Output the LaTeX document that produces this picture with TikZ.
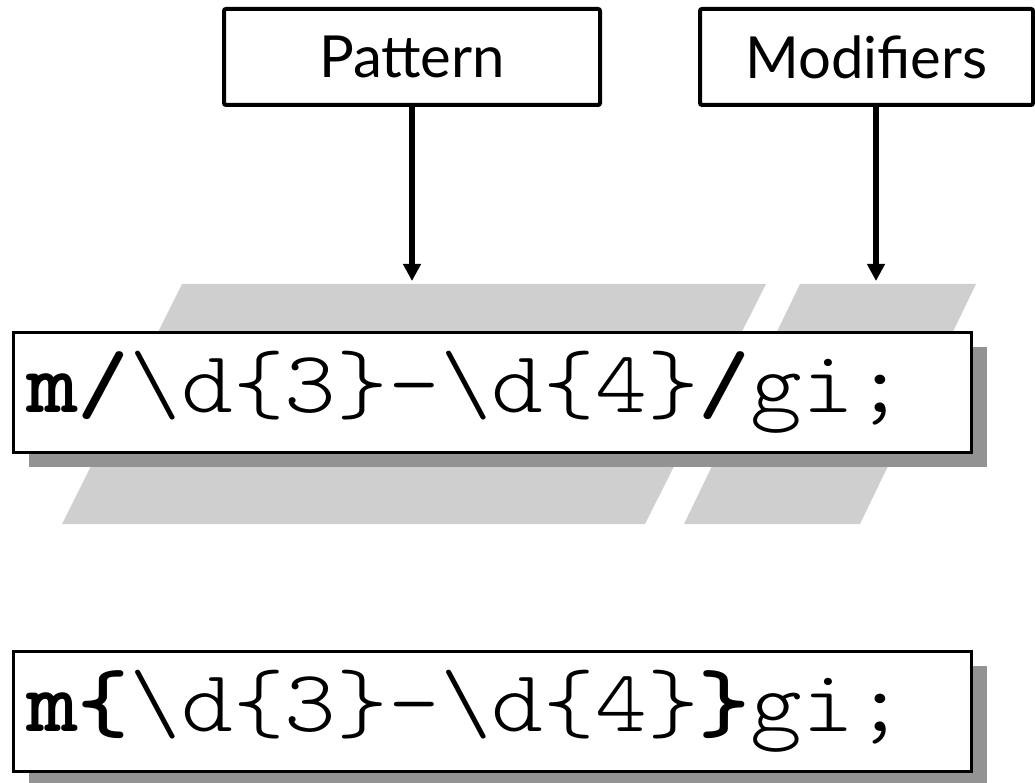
\documentclass[tikz,border=0pt]{standalone}
\usepackage{fontspec}
\usetikzlibrary{arrows.meta,shadows}
\newfontfamily\labelfont{Lato}
\newfontfamily\codefont{lmmonolt10-regular.otf}[BoldFont=lmmonolt10-bold.otf, FakeStretch=1.12]
\definecolor{bandgray}{HTML}{CFCFCF}
\definecolor{shadowgray}{HTML}{939393}
\tikzset{
  labelbox/.style={draw, line width=4pt, rounded corners=2pt, fill=white, inner sep=0pt,
    font=\labelfont\fontsize{58}{58}\selectfont},
  codebox/.style={draw, line width=3pt, fill=white, inner sep=0pt,
    minimum width=958pt, minimum height=120pt,
    general shadow={fill=shadowgray, shadow xshift=16pt, shadow yshift=-15pt}},
  codetext/.style={anchor=base west, inner sep=0pt, font=\codefont\fontsize{88}{88}\selectfont},
  band/.style={fill=bandgray},
  pointer/.style={line width=5.5pt, -{Triangle[width=17pt,length=17pt]}},
}
\begin{document}
\begin{tikzpicture}[x=1pt, y=-1pt]
\useasboundingbox (0,0) rectangle (1035,783);

% slanted bands marking the two parts of the match operator
\fill[band] (182,284) -- (766,284) -- (645,524) -- (62,524) -- cycle;
\fill[band] (800,284) -- (976,284) -- (860,524) -- (684,524) -- cycle;

% part labels
\node[labelbox, minimum width=376pt, minimum height=96pt] (pattern) at (412,57) {Pattern};
\node[labelbox, minimum width=333pt, minimum height=96pt] (modifiers) at (866.5,57) {Modifiers};

\coordinate (pattip) at (412,281);
\coordinate (modtip) at (876,281);
\draw[pointer] (pattern.south -| pattip) -- (pattip);
\draw[pointer] (modifiers.south -| modtip) -- (modtip);

% match with slash delimiters
\node[codebox] (slashbox) at (492,392) {};
\node[codetext] (slashcode) at (26,412)
  {\textbf{m/}\textbackslash d\{3\}-\textbackslash d\{4\}\textbf{/}gi;};

% match with brace delimiters
\node[codebox] (bracebox) at (492,711) {};
\node[codetext] (bracecode) at (26,731)
  {\textbf{m\{}\textbackslash d\{3\}-\textbackslash d\{4\}\textbf{\}}gi;};
\end{tikzpicture}
\end{document}
